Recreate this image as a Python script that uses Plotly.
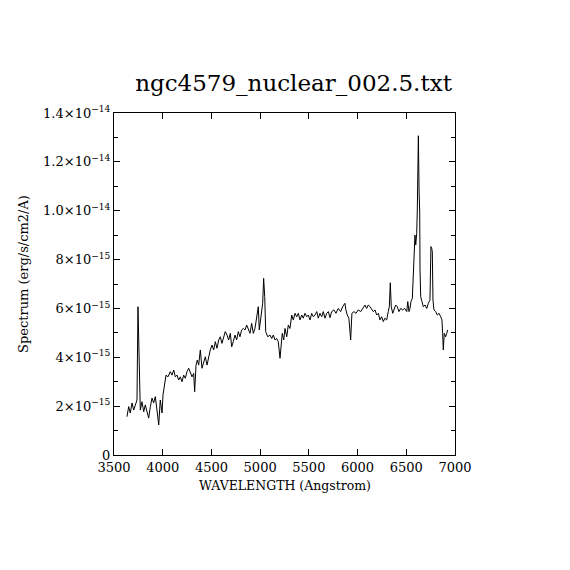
import plotly.graph_objects as go

# Wavelength (Angstrom) and flux (units of 1e-15 erg/s/cm2/A)
wavelength = [
    3633, 3651, 3667, 3685, 3702, 3719, 3736, 3746, 3760, 3770, 3787, 3805, 3821, 3839,
    3856, 3873, 3890, 3907, 3924, 3941, 3959, 3975, 3993, 4003, 4020, 4034, 4054, 4078,
    4095, 4113, 4129, 4147, 4164, 4181, 4198, 4215, 4232, 4249, 4267, 4283, 4301, 4318,
    4328, 4342, 4355, 4369, 4386, 4403, 4421, 4437, 4455, 4472, 4488, 4506, 4523, 4540,
    4557, 4575, 4591, 4608, 4626, 4642, 4660, 4677, 4694, 4708, 4724, 4742, 4759, 4776,
    4793, 4810, 4827, 4845, 4862, 4878, 4896, 4913, 4930, 4947, 4964, 4981, 4991, 5009,
    5026, 5036, 5047, 5057, 5078, 5101, 5119, 5135, 5153, 5170, 5186, 5204, 5214, 5227,
    5242, 5255, 5273, 5289, 5306, 5324, 5340, 5358, 5375, 5392, 5409, 5427, 5443, 5460,
    5478, 5494, 5512, 5529, 5545, 5563, 5581, 5597, 5614, 5632, 5648, 5666, 5683, 5700,
    5717, 5734, 5757, 5778, 5802, 5826, 5847, 5870, 5880, 5894, 5911, 5929, 5942, 5963,
    5984, 6007, 6032, 6052, 6076, 6093, 6110, 6128, 6145, 6161, 6179, 6196, 6213, 6230,
    6247, 6264, 6281, 6299, 6315, 6326, 6336, 6346, 6361, 6374, 6391, 6408, 6425, 6443,
    6463, 6484, 6505, 6515, 6528, 6538, 6548, 6562, 6572, 6582, 6589, 6597, 6607, 6613,
    6624, 6631, 6638, 6641, 6648, 6661, 6675, 6692, 6710, 6726, 6743, 6753, 6761, 6767,
    6774, 6784, 6802, 6818, 6836, 6853, 6866, 6873, 6880, 6890, 6904, 6915, 6925,
]
flux_1e15 = [
    1.57, 1.98, 1.72, 2.13, 1.84, 2.05, 2.25, 6.07, 2.66, 1.84, 2.18, 1.77, 2.05, 1.72,
    1.51, 1.98, 2.33, 2.13, 2.39, 1.84, 1.23, 2.25, 1.72, 2.46, 3.00, 3.27, 3.20, 3.41,
    3.27, 3.48, 3.20, 3.27, 3.07, 3.20, 3.00, 3.27, 3.14, 3.41, 3.55, 3.41, 3.20, 3.34,
    2.59, 3.68, 3.89, 3.68, 4.30, 3.55, 3.82, 4.02, 3.68, 4.09, 4.30, 4.50, 4.30, 4.64,
    4.37, 4.71, 4.84, 4.57, 4.84, 5.05, 4.91, 4.71, 4.98, 4.43, 4.64, 4.91, 4.71, 5.05,
    4.84, 5.12, 5.18, 5.12, 5.32, 5.12, 4.98, 5.39, 4.98, 5.18, 5.66, 6.07, 5.12, 5.66,
    6.21, 7.23, 6.48, 5.05, 4.84, 4.91, 4.77, 4.91, 4.71, 4.77, 4.64, 3.96, 4.30, 4.98,
    4.71, 5.18, 4.84, 5.32, 5.18, 5.73, 5.53, 5.80, 5.66, 5.80, 5.53, 5.73, 5.60, 5.80,
    5.66, 5.73, 5.53, 5.80, 5.66, 5.73, 5.87, 5.60, 5.80, 5.66, 5.87, 5.60, 5.80, 5.87,
    5.62, 5.87, 5.94, 5.80, 6.00, 5.87, 6.07, 6.21, 5.94, 5.73, 5.60, 4.71, 5.80, 5.87,
    5.80, 5.94, 5.87, 6.00, 6.14, 6.00, 6.14, 6.07, 5.94, 5.87, 5.94, 5.73, 5.80, 5.53,
    5.66, 5.46, 5.60, 5.53, 5.87, 6.07, 7.05, 6.07, 5.80, 5.94, 6.14, 6.07, 5.87, 6.00,
    5.94, 6.00, 5.87, 6.28, 5.87, 6.00, 6.28, 6.41, 7.30, 8.66, 9.00, 8.60, 9.07, 10.03,
    13.07, 10.85, 9.90, 7.57, 6.48, 6.28, 6.07, 6.14, 6.00, 6.21, 6.34, 8.53, 8.46, 8.32,
    6.34, 5.94, 5.87, 5.73, 5.80, 5.66, 5.53, 4.98, 4.30, 4.98, 4.84, 4.98, 5.12,
]

y_tick_values_1e15 = [0, 2, 4, 6, 8, 10, 12, 14]
y_tick_labels = [
    "0",
    "2\u00d710<sup>\u221215</sup>",
    "4\u00d710<sup>\u221215</sup>",
    "6\u00d710<sup>\u221215</sup>",
    "8\u00d710<sup>\u221215</sup>",
    "1.0\u00d710<sup>\u221214</sup>",
    "1.2\u00d710<sup>\u221214</sup>",
    "1.4\u00d710<sup>\u221214</sup>",
]
x_tick_values = [3500, 4000, 4500, 5000, 5500, 6000, 6500, 7000]

FONT = "DejaVu Serif"
W = H = 562  # page body has an 8 px margin

fig = go.Figure()
fig.add_trace(go.Scatter(
    x=wavelength,
    y=[v * 1e-15 for v in flux_1e15],
    mode="lines",
    line=dict(color="black", width=1),
    showlegend=False,
    hoverinfo="skip",
))

fig.update_layout(
    width=W, height=H,
    margin=dict(l=106, r=115, t=105, b=115),
    paper_bgcolor="white", plot_bgcolor="white",
    font=dict(family=FONT, color="black", size=13),
    title=dict(text="ngc4579_nuclear_002.5.txt", x=285.5 / W, xanchor="center",
               y=1 - 75 / H, yanchor="middle", yref="container",
               font=dict(family=FONT, size=23, color="black")),
)
fig.update_xaxes(
    range=[3500, 7000], tickmode="array", tickvals=x_tick_values,
    ticktext=[str(v) for v in x_tick_values],
    ticks="inside", ticklen=6, tickwidth=1, tickcolor="black",
    showline=True, linecolor="black", linewidth=1, mirror="ticks",
    showgrid=False, zeroline=False, tickfont=dict(size=13),
)
fig.update_yaxes(
    range=[0, 1.4e-14], tickmode="array",
    tickvals=[v * 1e-15 for v in y_tick_values_1e15], ticktext=y_tick_labels,
    ticks="inside", ticklen=6, tickwidth=1, tickcolor="black",
    minor=dict(ticks="inside", ticklen=4, tickcolor="black", dtick=1e-15, showgrid=False),
    showline=True, linecolor="black", linewidth=1, mirror="ticks",
    showgrid=False, zeroline=False, tickfont=dict(size=13),
)
fig.add_annotation(text="WAVELENGTH (Angstrom)", xref="paper", yref="paper",
                   x=0.5, y=-(485 - 455) / 342, xanchor="center", yanchor="middle",
                   showarrow=False, font=dict(family=FONT, size=12.5))
fig.add_annotation(text="Spectrum (erg/s/cm2/A)", xref="paper", yref="paper",
                   x=-(114 - 23) / 341, y=(455 - 274) / 342, xanchor="center", yanchor="middle",
                   textangle=-90, showarrow=False, font=dict(family=FONT, size=13))

fig.write_html("out.html")
